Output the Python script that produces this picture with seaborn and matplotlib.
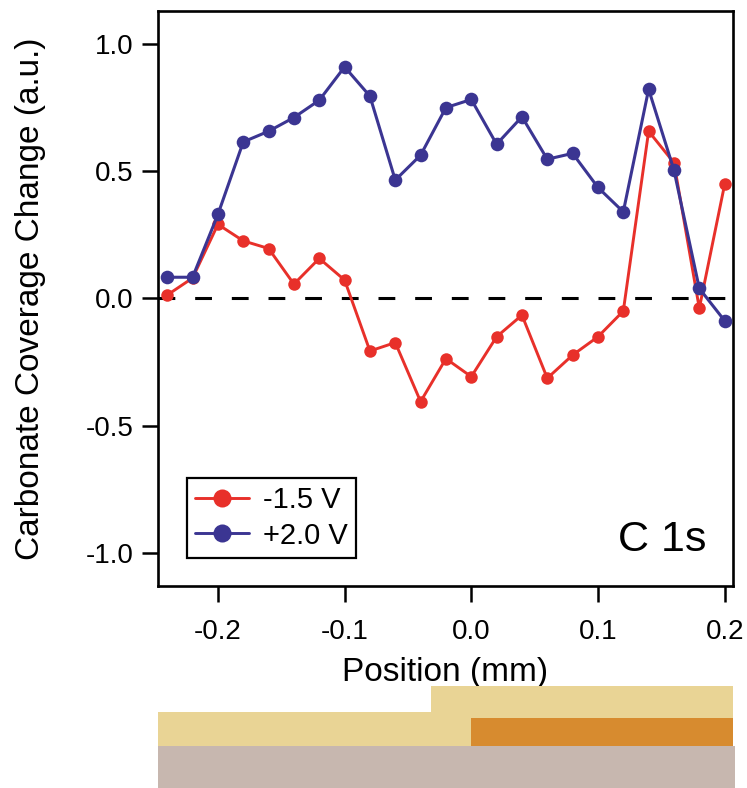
import matplotlib
matplotlib.use("Agg")
import matplotlib.pyplot as plt
from matplotlib.patches import Rectangle
from matplotlib.lines import Line2D
import numpy as np
import pandas as pd
import seaborn as sns

# Scan positions (mm) and carbonate coverage change for the two bias settings
position = [-0.24, -0.22, -0.20, -0.18, -0.16, -0.14, -0.12, -0.10, -0.08, -0.06,
            -0.04, -0.02, 0.00, 0.02, 0.04, 0.06, 0.08, 0.10, 0.12, 0.14,
            0.16, 0.18, 0.20]
neg_bias = [0.013, 0.08, 0.291, 0.226, 0.196, 0.056, 0.157, 0.072, -0.207, -0.174,
            -0.406, -0.237, -0.308, -0.151, -0.066, -0.314, -0.223, -0.151, -0.05, 0.657,
            0.533, -0.039, 0.448]
pos_bias = [0.083, 0.083, 0.33, 0.615, 0.657, 0.711, 0.779, 0.91, 0.795, 0.465,
            0.563, 0.75, 0.782, 0.606, 0.714, 0.547, 0.57, 0.436, 0.34, 0.822,
            0.504, 0.039, -0.088]
series_labels = ["-1.5 V", "+2.0 V"]
x_ticks = [-0.2, -0.1, 0.0, 0.1, 0.2]
y_ticks = [-1.0, -0.5, 0.0, 0.5, 1.0]

RED = "#E8302A"
BLUE = "#3B3592"

sns.set_style("ticks")
plt.rcParams["font.family"] = ["Liberation Sans", "DejaVu Sans"]
plt.rcParams["text.color"] = "black"
plt.rcParams["axes.labelcolor"] = "black"
plt.rcParams["xtick.color"] = "black"
plt.rcParams["ytick.color"] = "black"
plt.rcParams["axes.edgecolor"] = "black"

df = pd.DataFrame({
    "Position": position * 2,
    "Change": neg_bias + pos_bias,
    "Bias": [series_labels[0]] * len(position) + [series_labels[1]] * len(position),
})

fig = plt.figure(figsize=(7.47, 7.88), dpi=100)
ax = fig.add_axes([158 / 747, 1 - 586 / 788, 575 / 747, (586 - 10.7) / 788])

XMIN, XMAX = -0.2473, 0.2066
ax.axhline(0.0, color="black", lw=2.2, ls=(0, (5.5, 6.5)), zorder=1)

sns.lineplot(data=df[df["Bias"] == series_labels[0]], x="Position", y="Change",
             color=RED, lw=2.1, marker="o", markersize=9.0, markeredgewidth=0,
             ax=ax, zorder=3, legend=False)
sns.lineplot(data=df[df["Bias"] == series_labels[1]], x="Position", y="Change",
             color=BLUE, lw=2.2, marker="o", markersize=9.8, markeredgewidth=0,
             ax=ax, zorder=4, legend=False)

ax.set_xlim(XMIN, XMAX)
ax.set_ylim(-1.131, 1.131)
ax.set_xticks(x_ticks)
ax.set_xticklabels([f"{v:.1f}" for v in x_ticks])
ax.set_yticks(y_ticks)
ax.set_yticklabels([f"{v:.1f}" for v in y_ticks])
ax.tick_params(axis="both", direction="out", length=11.5, width=1.8,
               labelsize=20, color="black", labelcolor="black")
ax.tick_params(axis="x", pad=12)
ax.tick_params(axis="y", pad=6)
for side in ["top", "right", "bottom", "left"]:
    ax.spines[side].set_visible(True)
    ax.spines[side].set_linewidth(1.9)
    ax.spines[side].set_color("black")

ax.set_xlabel("Position (mm)", fontsize=24, labelpad=9, color="black")
ax.set_ylabel("Carbonate Coverage Change (a.u.)", fontsize=24, labelpad=29,
              color="black")

ax.text(0.877, 0.08, "C 1s", transform=ax.transAxes, fontsize=31,
        ha="center", va="center", color="black")

handles = [
    Line2D([0], [0], color=RED, lw=2.1, marker="o", markersize=13, markeredgewidth=0),
    Line2D([0], [0], color=BLUE, lw=2.1, marker="o", markersize=13, markeredgewidth=0),
]
leg = ax.legend(handles, series_labels, loc="lower left",
                bbox_to_anchor=((186.7 - 158) / 575, (586 - 558.3) / 575.3),
                fontsize=21, frameon=True, fancybox=False, framealpha=1,
                edgecolor="black", handlelength=1.85, handletextpad=0.45,
                borderpad=0.3, labelspacing=0.25, borderaxespad=0,
                labelcolor="black")
leg.get_frame().set_linewidth(1.6)

# Device cross-section drawn under the scan, on the same position scale
sch = fig.add_axes([158 / 747, 0, 577 / 747, 102 / 788])
sch.set_xlim(XMIN, XMAX + 0.0016)
sch.set_ylim(0, 102)
sch.axis("off")
step_x = -0.032
sch.add_patch(Rectangle((XMIN, 0), XMAX - XMIN + 0.0016, 42, color="#C7B7AF", lw=0))
sch.add_patch(Rectangle((XMIN, 42), step_x - XMIN, 34, color="#E9D495", lw=0))
sch.add_patch(Rectangle((step_x, 42), XMAX - step_x, 60, color="#E9D495", lw=0))
sch.add_patch(Rectangle((0.0, 42), XMAX - 0.0, 28, color="#D78B2F", lw=0))

fig.savefig("out.png", dpi=100)
